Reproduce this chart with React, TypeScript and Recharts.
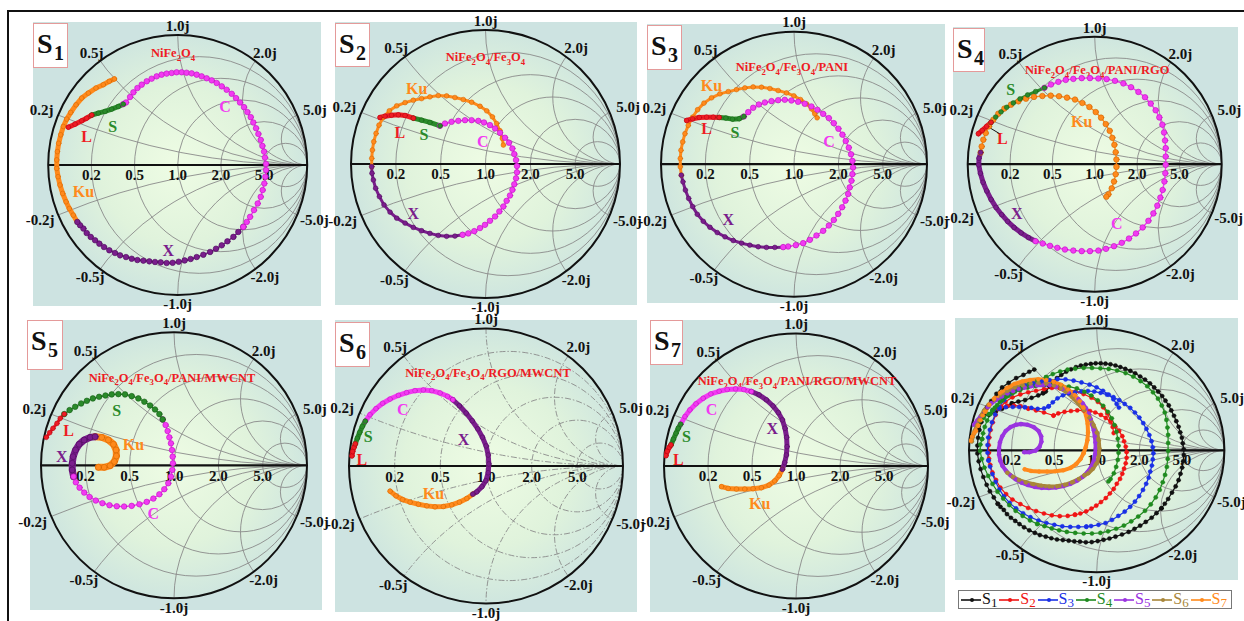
import React from 'react';
import { ComposedChart, Line, XAxis, YAxis, Customized } from 'recharts';
import * as RC from 'recharts';

type Pt = [number, number];

// ---------- data: reflection coefficient (Re Γ, Im Γ) ----------
const s1L: Pt[] = [[-0.844,0.291],[-0.793,0.314],[-0.741,0.340],[-0.703,0.360],[-0.664,0.384]];
const s1S: Pt[] = [[-0.664,0.384],[-0.613,0.399],[-0.561,0.412],[-0.510,0.430],[-0.458,0.450],[-0.420,0.468]];
const s1C: Pt[] = [[-0.420,0.468],[-0.399,0.481],[-0.368,0.523],[-0.342,0.559],[-0.311,0.592],[-0.278,0.618],[-0.239,0.644],[-0.201,0.664],[-0.162,0.682],[-0.124,0.695],[-0.085,0.703],[-0.046,0.708],[-0.008,0.713],[0.031,0.713],[0.069,0.710],[0.108,0.705],[0.147,0.695],[0.185,0.682],[0.224,0.667],[0.263,0.651],[0.301,0.631],[0.340,0.605],[0.378,0.579],[0.417,0.548],[0.450,0.515],[0.481,0.481],[0.512,0.445],[0.538,0.407],[0.564,0.368],[0.584,0.327],[0.605,0.283],[0.623,0.239],[0.641,0.193],[0.654,0.147],[0.667,0.103],[0.674,0.057],[0.682,0.008],[0.682,-0.039],[0.677,-0.090],[0.669,-0.142],[0.656,-0.193],[0.641,-0.245],[0.618,-0.296],[0.589,-0.347],[0.559,-0.399],[0.533,-0.438],[0.507,-0.476]];
const s1X: Pt[] = [[0.507,-0.476],[0.468,-0.515],[0.430,-0.553],[0.384,-0.587],[0.340,-0.618],[0.296,-0.644],[0.250,-0.669],[0.198,-0.690],[0.147,-0.708],[0.100,-0.723],[0.054,-0.734],[0.008,-0.744],[-0.039,-0.752],[-0.085,-0.754],[-0.131,-0.749],[-0.175,-0.746],[-0.219,-0.741],[-0.265,-0.736],[-0.311,-0.731],[-0.355,-0.721],[-0.399,-0.708],[-0.445,-0.695],[-0.484,-0.677],[-0.528,-0.656],[-0.569,-0.631],[-0.605,-0.605],[-0.638,-0.579],[-0.672,-0.553],[-0.703,-0.523],[-0.728,-0.489],[-0.754,-0.463],[-0.775,-0.438]];
const s1Ku: Pt[] = [[-0.775,-0.438],[-0.806,-0.386],[-0.837,-0.335],[-0.862,-0.283],[-0.888,-0.219],[-0.909,-0.154],[-0.924,-0.090],[-0.934,-0.026],[-0.934,0.039],[-0.929,0.103],[-0.919,0.167],[-0.903,0.232],[-0.883,0.296],[-0.857,0.353],[-0.826,0.404],[-0.785,0.463],[-0.741,0.515],[-0.690,0.553],[-0.631,0.592],[-0.574,0.618],[-0.528,0.644],[-0.489,0.662]];

const s2L: Pt[] = [[-0.784,0.347],[-0.747,0.357],[-0.698,0.364],[-0.648,0.367],[-0.598,0.362],[-0.536,0.342]];
const s2S: Pt[] = [[-0.536,0.342],[-0.475,0.327],[-0.413,0.310],[-0.338,0.285]];
const s2C: Pt[] = [[-0.338,0.285],[-0.301,0.302],[-0.252,0.315],[-0.202,0.322],[-0.152,0.327],[-0.103,0.327],[-0.053,0.322],[-0.011,0.310],[0.033,0.290],[0.071,0.265],[0.108,0.233],[0.145,0.196],[0.175,0.159],[0.200,0.116],[0.214,0.074],[0.227,0.030],[0.234,-0.015],[0.234,-0.062],[0.227,-0.107],[0.214,-0.151],[0.200,-0.193],[0.182,-0.235],[0.157,-0.275],[0.133,-0.317],[0.103,-0.354],[0.071,-0.392],[0.033,-0.424],[-0.004,-0.454],[-0.041,-0.478],[-0.083,-0.501],[-0.128,-0.518],[-0.170,-0.528]];
const s2X: Pt[] = [[-0.170,-0.528],[-0.227,-0.538],[-0.289,-0.540],[-0.351,-0.533],[-0.413,-0.518],[-0.475,-0.498],[-0.537,-0.473],[-0.598,-0.441],[-0.660,-0.404],[-0.710,-0.359],[-0.755,-0.305],[-0.789,-0.243],[-0.817,-0.181],[-0.834,-0.119],[-0.844,-0.069],[-0.846,-0.020]];
const s2Ku: Pt[] = [[-0.846,-0.020],[-0.846,0.042],[-0.841,0.104],[-0.831,0.166],[-0.814,0.228],[-0.792,0.290],[-0.760,0.347],[-0.715,0.397],[-0.660,0.434],[-0.598,0.458],[-0.537,0.476],[-0.475,0.488],[-0.413,0.501],[-0.351,0.511],[-0.289,0.508],[-0.227,0.496],[-0.165,0.481],[-0.103,0.461],[-0.041,0.431],[0.009,0.397],[0.051,0.352],[0.083,0.302],[0.108,0.248],[0.125,0.191],[0.133,0.141]];

const s3L: Pt[] = [[-0.807,0.330],[-0.762,0.343],[-0.712,0.353],[-0.657,0.355],[-0.607,0.355],[-0.562,0.353]];
const s3S: Pt[] = [[-0.562,0.353],[-0.512,0.348],[-0.462,0.340],[-0.412,0.343],[-0.377,0.360]];
const s3C: Pt[] = [[-0.377,0.360],[-0.344,0.393],[-0.307,0.426],[-0.264,0.451],[-0.219,0.466],[-0.169,0.476],[-0.119,0.483],[-0.069,0.486],[-0.019,0.481],[0.031,0.471],[0.081,0.456],[0.131,0.436],[0.176,0.411],[0.219,0.380],[0.262,0.348],[0.299,0.310],[0.334,0.268],[0.364,0.223],[0.389,0.175],[0.412,0.125],[0.429,0.075],[0.439,0.025],[0.444,-0.025],[0.439,-0.075],[0.432,-0.125],[0.419,-0.175],[0.407,-0.225],[0.387,-0.275],[0.362,-0.325],[0.332,-0.375],[0.299,-0.421],[0.262,-0.463],[0.219,-0.503],[0.169,-0.538],[0.119,-0.571],[0.069,-0.596],[0.014,-0.611],[-0.044,-0.621],[-0.081,-0.626]];
const s3X: Pt[] = [[-0.081,-0.626],[-0.144,-0.628],[-0.207,-0.628],[-0.269,-0.623],[-0.332,-0.611],[-0.394,-0.596],[-0.457,-0.576],[-0.519,-0.548],[-0.577,-0.516],[-0.632,-0.476],[-0.682,-0.431],[-0.727,-0.378],[-0.762,-0.320],[-0.792,-0.258],[-0.817,-0.195],[-0.835,-0.133],[-0.847,-0.083]];
const s3Ku: Pt[] = [[-0.847,-0.083],[-0.855,-0.020],[-0.855,0.043],[-0.850,0.105],[-0.837,0.168],[-0.820,0.230],[-0.795,0.293],[-0.762,0.355],[-0.725,0.411],[-0.677,0.461],[-0.620,0.501],[-0.557,0.531],[-0.494,0.548],[-0.432,0.563],[-0.369,0.576],[-0.307,0.583],[-0.244,0.581],[-0.181,0.571],[-0.119,0.556],[-0.056,0.538],[-0.001,0.516],[0.049,0.488],[0.094,0.456],[0.131,0.418],[0.156,0.380],[0.174,0.350]];

const s4L: Pt[] = [[-0.916,0.239],[-0.885,0.265],[-0.850,0.297],[-0.816,0.328]];
const s4S: Pt[] = [[-0.816,0.328],[-0.780,0.370],[-0.738,0.410],[-0.693,0.446],[-0.641,0.480],[-0.588,0.512],[-0.528,0.543],[-0.465,0.570],[-0.396,0.599]];
const s4C: Pt[] = [[-0.396,0.599],[-0.344,0.625],[-0.286,0.646],[-0.228,0.661],[-0.168,0.669],[-0.102,0.675],[-0.037,0.675],[0.029,0.672],[0.094,0.667],[0.160,0.654],[0.226,0.633],[0.286,0.604],[0.344,0.567],[0.396,0.525],[0.441,0.475],[0.480,0.423],[0.509,0.367],[0.533,0.310],[0.546,0.249],[0.554,0.186],[0.559,0.126],[0.559,0.060],[0.559,-0.005],[0.556,-0.071],[0.549,-0.136],[0.535,-0.202],[0.517,-0.262],[0.493,-0.325],[0.462,-0.386],[0.423,-0.444],[0.378,-0.496],[0.325,-0.543],[0.270,-0.583],[0.213,-0.617],[0.152,-0.643],[0.089,-0.664],[0.029,-0.677],[-0.037,-0.682],[-0.102,-0.682],[-0.168,-0.677],[-0.234,-0.669],[-0.294,-0.656],[-0.352,-0.640],[-0.409,-0.622],[-0.465,-0.604]];
const s4X: Pt[] = [[-0.465,-0.604],[-0.522,-0.575],[-0.580,-0.538],[-0.635,-0.496],[-0.685,-0.449],[-0.732,-0.396],[-0.777,-0.339],[-0.816,-0.276],[-0.850,-0.210],[-0.879,-0.142],[-0.900,-0.071],[-0.913,-0.005],[-0.911,0.047],[-0.898,0.092]];
const s4Ku: Pt[] = [[-0.898,0.092],[-0.890,0.139],[-0.877,0.192],[-0.858,0.244],[-0.832,0.297],[-0.798,0.349],[-0.759,0.396],[-0.711,0.436],[-0.659,0.467],[-0.601,0.493],[-0.541,0.514],[-0.478,0.528],[-0.412,0.535],[-0.346,0.538],[-0.281,0.533],[-0.218,0.522],[-0.155,0.507],[-0.097,0.480],[-0.042,0.449],[0.008,0.409],[0.050,0.365],[0.087,0.315],[0.118,0.262],[0.139,0.207],[0.155,0.152],[0.165,0.094],[0.171,0.037],[0.171,-0.021],[0.165,-0.079],[0.152,-0.136],[0.134,-0.189],[0.108,-0.236],[0.092,-0.255]];

const s5L: Pt[] = [[-0.960,0.210],[-0.935,0.245],[-0.910,0.278],[-0.880,0.315],[-0.855,0.353],[-0.825,0.385]];
const s5S: Pt[] = [[-0.825,0.385],[-0.785,0.415],[-0.743,0.440],[-0.698,0.465],[-0.655,0.485],[-0.610,0.503],[-0.563,0.515],[-0.515,0.525],[-0.468,0.533],[-0.418,0.535],[-0.368,0.533],[-0.318,0.520],[-0.268,0.503],[-0.223,0.478],[-0.180,0.450],[-0.143,0.420],[-0.110,0.385],[-0.085,0.345]];
const s5C: Pt[] = [[-0.085,0.345],[-0.063,0.303],[-0.048,0.258],[-0.035,0.210],[-0.023,0.165],[-0.015,0.115],[-0.010,0.065],[-0.008,0.015],[-0.013,-0.035],[-0.023,-0.085],[-0.043,-0.135],[-0.073,-0.180],[-0.110,-0.218],[-0.155,-0.250],[-0.205,-0.275],[-0.260,-0.293],[-0.318,-0.305],[-0.375,-0.310],[-0.430,-0.308],[-0.485,-0.300],[-0.538,-0.285],[-0.588,-0.265],[-0.635,-0.238],[-0.675,-0.205],[-0.710,-0.168],[-0.738,-0.128],[-0.755,-0.085]];
const s5X: Pt[] = [[-0.755,-0.085],[-0.765,-0.035],[-0.765,0.015],[-0.758,0.065],[-0.740,0.115],[-0.713,0.158],[-0.675,0.190],[-0.630,0.210],[-0.593,0.215]];
const s5Ku: Pt[] = [[-0.593,0.215],[-0.543,0.210],[-0.493,0.190],[-0.455,0.158],[-0.435,0.115],[-0.433,0.070],[-0.448,0.028],[-0.480,-0.003],[-0.525,-0.015],[-0.568,-0.015]];

const s6L: Pt[] = [[-0.978,0.073],[-0.973,0.105],[-0.963,0.136],[-0.954,0.161]];
const s6S: Pt[] = [[-0.954,0.161],[-0.939,0.202],[-0.922,0.244],[-0.903,0.287],[-0.881,0.326]];
const s6C: Pt[] = [[-0.881,0.326],[-0.847,0.373],[-0.803,0.417],[-0.754,0.456],[-0.700,0.487],[-0.639,0.514],[-0.579,0.534],[-0.518,0.548],[-0.457,0.553],[-0.396,0.548],[-0.335,0.531],[-0.281,0.507],[-0.242,0.482]];
const s6X: Pt[] = [[-0.242,0.482],[-0.194,0.438],[-0.145,0.385],[-0.101,0.329],[-0.060,0.270],[-0.026,0.209],[0.001,0.146],[0.016,0.080],[0.021,0.015],[0.016,-0.049],[-0.001,-0.107],[-0.030,-0.151],[-0.067,-0.188],[-0.096,-0.205]];
const s6Ku: Pt[] = [[-0.096,-0.205],[-0.140,-0.236],[-0.194,-0.263],[-0.250,-0.283],[-0.311,-0.295],[-0.372,-0.297],[-0.432,-0.290],[-0.493,-0.278],[-0.554,-0.263],[-0.608,-0.244],[-0.657,-0.217],[-0.700,-0.183]];

const s7L: Pt[] = [[-0.985,0.078],[-0.975,0.111],[-0.960,0.141],[-0.947,0.159]];
const s7S: Pt[] = [[-0.947,0.159],[-0.929,0.202],[-0.909,0.247],[-0.892,0.285],[-0.874,0.315]];
const s7C: Pt[] = [[-0.874,0.315],[-0.841,0.373],[-0.804,0.423],[-0.758,0.469],[-0.703,0.511],[-0.645,0.544],[-0.582,0.564],[-0.521,0.577],[-0.458,0.582],[-0.395,0.577],[-0.338,0.562]];
const s7X: Pt[] = [[-0.338,0.562],[-0.280,0.537],[-0.224,0.499],[-0.174,0.453],[-0.134,0.403],[-0.103,0.348],[-0.083,0.285],[-0.071,0.217],[-0.068,0.146],[-0.073,0.083],[-0.086,0.025],[-0.103,-0.025]];
const s7Ku: Pt[] = [[-0.103,-0.025],[-0.128,-0.073],[-0.161,-0.113],[-0.204,-0.144],[-0.262,-0.164],[-0.325,-0.171],[-0.388,-0.174],[-0.451,-0.174],[-0.514,-0.169],[-0.564,-0.156]];

// ---------- labels / categories ----------
const BANDS = ['L', 'S', 'C', 'X', 'Ku'] as const;
type Band = typeof BANDS[number];
const SAMPLE_NAMES = ['S1', 'S2', 'S3', 'S4', 'S5', 'S6', 'S7'];
const SAMPLE_TITLES = ['NiFe2O4', 'NiFe2O4/Fe3O4', 'NiFe2O4/Fe3O4/PANI', 'NiFe2O4/Fe3O4/PANI/RGO', 'NiFe2O4/Fe3O4/PANI/MWCNT', 'NiFe2O4/Fe3O4/RGO/MWCNT', 'NiFe2O4/Fe3O4/PANI/RGO/MWCNT'];
const SAMPLE_SEGMENTS: Pt[][][] = [
  [s1L, s1S, s1C, s1X, s1Ku],
  [s2L, s2S, s2C, s2X, s2Ku],
  [s3L, s3S, s3C, s3X, s3Ku],
  [s4L, s4S, s4C, s4X, s4Ku],
  [s5L, s5S, s5C, s5X, s5Ku],
  [s6L, s6S, s6C, s6X, s6Ku],
  [s7L, s7S, s7C, s7X, s7Ku],
];
const RESISTANCE_VALUES = [0.2, 0.5, 1, 2, 5];
const REACTANCE_VALUES = [0.2, 0.5, 1, 2, 5];
const AXIS_TICK_LABELS = ['0.2', '0.5', '1.0', '2.0', '5.0'];
const RIM_TICK_LABELS = ['1.0j', '0.5j', '2.0j', '0.2j', '5.0j', '-0.2j', '-5.0j', '-0.5j', '-2.0j', '-1.0j'];

// ---------- styles & layout ----------
const BAND_COLOR: Record<Band, string> = { L: '#ee1c24', S: '#2a8a2a', C: '#f23af2', X: '#7a1e8c', Ku: '#ff8a1c' };
const BAND_DARK: Record<Band, string> = { L: '#b00010', S: '#175e17', C: '#c012c0', X: '#4c0a5a', Ku: '#d06400' };
const SAMPLE_COLOR = ['#111111', '#f01414', '#1a30e6', '#1f8a1f', '#9a34e0', '#a8863a', '#ff8a1c'];
const SAMPLE_MODE = ['b', 'b', 'b', 'b', 'd', 'd', 'd'];
const RIM_POS: Pt[] = [[0, 1.07], [-0.664, 0.862], [0.674, 0.862], [-1.05, 0.425], [1.06, 0.425], [-1.063, -0.425], [1.055, -0.425], [-0.677, -0.862], [0.674, -0.862], [0, -1.07]];
const FONT = '"Liberation Serif", "Times New Roman", serif';

type PanelLayout = {
  cell: [number, number, number, number];
  circle: [number, number, number, number];
  bg: [number, number, number, number];
  box: [number, number, number, number];
  title: Pt;
  bandLabels: Record<Band, Pt>;
  modes: Record<Band, string>;
  dashed?: boolean;
  pointer?: [Pt, Pt];
};

const LAYOUTS: PanelLayout[] = [
  { cell: [12, 12, 318, 298], circle: [177.7, 165, 129.5, 130], bg: [33, 22, 288, 284], box: [33, 23, 35, 45], title: [-0.036, 0.86],
    bandLabels: { C: [0.366, 0.45], S: [-0.502, 0.296], L: [-0.703, 0.219], Ku: [-0.728, -0.206], X: [-0.072, -0.656] },
    modes: { L: 'd', S: 'd', C: 'b', X: 'b', Ku: 'd' } },
  { cell: [330, 12, 311, 298], circle: [485.5, 164, 134.5, 134], bg: [335, 22, 302, 283], box: [335, 23, 35, 44], title: [0, 0.8],
    bandLabels: { Ku: [-0.512, 0.563], L: [-0.636, 0.233], S: [-0.457, 0.223], C: [-0.021, 0.166], X: [-0.537, -0.367] },
    modes: { L: 'd', S: 'd', C: 'b', X: 'm', Ku: 'm' } },
  { cell: [641, 12, 309, 298], circle: [794, 164.2, 133, 132.5], bg: [647, 24, 298, 279], box: [647, 25, 35, 45], title: [-0.015, 0.73],
    bandLabels: { Ku: [-0.62, 0.593], L: [-0.657, 0.268], S: [-0.444, 0.243], C: [0.264, 0.168], X: [-0.494, -0.416] },
    modes: { L: 'd', S: 'd', C: 'b', X: 'm', Ku: 'm' } },
  { cell: [950, 12, 294, 298], circle: [1094.7, 164.2, 127, 127.5], bg: [953, 27, 285, 273], box: [953, 28, 32, 44], title: [0.02, 0.74],
    bandLabels: { S: [-0.661, 0.585], L: [-0.727, 0.205], Ku: [-0.102, 0.336], X: [-0.614, -0.386], C: [0.173, -0.465] },
    modes: { L: 'd', S: 'm', C: 'b', X: 'd', Ku: 'b' }, pointer: [[-0.75, 0.24], [-0.85, 0.3]] },
  { cell: [12, 310, 318, 311], circle: [174, 465.3, 133, 133], bg: [30, 320, 292, 290], box: [27, 320, 36, 50], title: [-0.015, 0.66],
    bandLabels: { S: [-0.43, 0.415], L: [-0.793, 0.265], Ku: [-0.305, 0.153], X: [-0.843, 0.065], C: [-0.155, -0.36] },
    modes: { L: 'm', S: 'b', C: 'b', X: 'dd', Ku: 'dd' } },
  { cell: [330, 310, 311, 311], circle: [486, 466, 137, 137.5], bg: [335, 320, 302, 292], box: [335, 322, 35, 45], title: [0.015, 0.68],
    bandLabels: { C: [-0.608, 0.409], S: [-0.859, 0.214], L: [-0.907, 0.049], X: [-0.164, 0.19], Ku: [-0.384, -0.2] },
    modes: { L: 'd', S: 'd', C: 'd', X: 'd', Ku: 'd' }, dashed: true },
  { cell: [641, 310, 309, 311], circle: [796, 466, 132, 132.5], bg: [650, 320, 295, 292], box: [650, 320, 33, 45], title: [0.008, 0.64],
    bandLabels: { C: [-0.64, 0.423], S: [-0.829, 0.222], L: [-0.892, 0.05], X: [-0.179, 0.285], Ku: [-0.275, -0.282] },
    modes: { L: 'd', S: 'd', C: 'd', X: 'd', Ku: 'd' } },
];
const COMBINED_LAYOUT = { cell: [950, 310, 294, 311] as [number, number, number, number], circle: [1096.7, 450.3, 127.7, 122] as [number, number, number, number], bg: [955, 318, 283, 262] as [number, number, number, number] };

const toPts = (a: Pt[]) => a.map(([u, v]) => ({ u, v }));
const usePlotAreaSafe: () => any = (RC as any).usePlotArea ?? (() => null);

function usePlotBox(fb: [number, number, number, number]) {
  const pa = usePlotAreaSafe();
  const ok = pa && pa.width;
  const x0 = ok ? pa.x : fb[0];
  const y0 = ok ? pa.y : fb[1];
  const w = ok ? pa.width : fb[2];
  const h = ok ? pa.height : fb[3];
  return { X: (u: number) => x0 + ((u + 1) / 2) * w, Y: (v: number) => y0 + ((1 - v) / 2) * h, w, h };
}

// text with numeric subscripts
function Formula({ text, x, y, size, fill }: { text: string; x: number; y: number; size: number; fill: string }) {
  const parts = text.match(/(\d+|[^\d]+)/g) || [];
  let shifted = false;
  return (
    <text x={x} y={y} textAnchor="middle" fontFamily={FONT} fontWeight="bold" fontSize={size} fill={fill}>
      {parts.map((p, i) => {
        const isSub = /^\d+$/.test(p);
        let dy = 0;
        if (isSub && !shifted) { dy = size * 0.3; shifted = true; }
        else if (!isSub && shifted) { dy = -size * 0.3; shifted = false; }
        return <tspan key={i} dy={dy} fontSize={isSub ? size * 0.7 : size}>{p}</tspan>;
      })}
    </text>
  );
}

type LayerProps = { id: string; fb: [number, number, number, number]; dashed?: boolean; title?: string; titlePos?: Pt; bandLabels?: Record<Band, Pt>; pointer?: [Pt, Pt] };

function SmithLayer(props: LayerProps) {
  const { X, Y, w, h } = usePlotBox(props.fb);
  const rx = w / 2, ry = h / 2, cx = X(0), cy = Y(0);
  const dash = props.dashed ? '6 2 1.5 2' : undefined;
  return (
    <g>
      <defs>
        <radialGradient id={`grad-${props.id}`} cx="50%" cy="50%" r="50%">
          <stop offset="0%" stopColor="#eefce4" />
          <stop offset="60%" stopColor="#e0f3dc" />
          <stop offset="100%" stopColor="#cfe6df" />
        </radialGradient>
        <clipPath id={`clip-${props.id}`}>
          <ellipse cx={cx} cy={cy} rx={rx} ry={ry} />
        </clipPath>
      </defs>
      <ellipse cx={cx} cy={cy} rx={rx} ry={ry} fill={`url(#grad-${props.id})`} />
      <g clipPath={`url(#clip-${props.id})`} fill="none" stroke="#8a8a8a" strokeWidth={0.9} strokeDasharray={dash}>
        {RESISTANCE_VALUES.map((r) => (
          <ellipse key={`r${r}`} cx={X(r / (1 + r))} cy={cy} rx={rx / (1 + r)} ry={ry / (1 + r)} />
        ))}
        {REACTANCE_VALUES.flatMap((x) => [1, -1].map((s) => (
          <ellipse key={`x${x}${s}`} cx={X(1)} cy={Y(s / x)} rx={rx / x} ry={ry / x} />
        )))}
      </g>
      <ellipse cx={cx} cy={cy} rx={rx} ry={ry} fill="none" stroke="#111" strokeWidth={2} />
      <line x1={X(-1)} x2={X(1)} y1={cy} y2={cy} stroke="#111" strokeWidth={2.2} />
      {RIM_TICK_LABELS.map((t, i) => (
        <text key={t} x={X(RIM_POS[i][0])} y={Y(RIM_POS[i][1])} dominantBaseline="central" textAnchor="middle" fontFamily={FONT} fontWeight="bold" fontSize={15} fill="#111">{t}</text>
      ))}
      {AXIS_TICK_LABELS.map((t, i) => {
        const r = RESISTANCE_VALUES[i];
        return <text key={t} x={X((r - 1) / (r + 1))} y={Y(-0.077)} dominantBaseline="central" textAnchor="middle" fontFamily={FONT} fontWeight="bold" fontSize={15} fill="#111">{t}</text>;
      })}
    </g>
  );
}

function TopLayer(props: LayerProps) {
  const { X, Y } = usePlotBox(props.fb);
  return (
    <g>
      {props.bandLabels ? BANDS.map((b) => (
        <text key={b} x={X(props.bandLabels![b][0])} y={Y(props.bandLabels![b][1])} dominantBaseline="central" textAnchor="middle" fontFamily={FONT} fontWeight="bold" fontSize={16} fill={BAND_COLOR[b]}>{b}</text>
      )) : null}
      {props.pointer ? <line x1={X(props.pointer[0][0])} y1={Y(props.pointer[0][1])} x2={X(props.pointer[1][0])} y2={Y(props.pointer[1][1])} stroke="#111" strokeWidth={1} /> : null}
      {props.title && props.titlePos ? <Formula text={props.title} x={X(props.titlePos[0])} y={Y(props.titlePos[1]) + 4} size={12.5} fill="#ee1c24" /> : null}
    </g>
  );
}

function styleFor(mode: string, color: string, dark: string) {
  if (mode === 'dd') return { sw: 7, dot: { r: 3, fill: color, stroke: dark, strokeWidth: 0.6 } };
  if (mode === 'd') return { sw: 5, dot: { r: 2.4, fill: color, stroke: dark, strokeWidth: 0.5 } };
  if (mode === 'm') return { sw: 3, dot: { r: 2.4, fill: color, stroke: dark, strokeWidth: 0.5 } };
  return { sw: 1.4, dot: { r: 2.8, fill: color, stroke: dark, strokeWidth: 0.6 } };
}

function marginFor(cell: [number, number, number, number], circle: [number, number, number, number]) {
  const [x, y, w, h] = cell;
  const [cx, cy, rx, ry] = circle;
  return { left: cx - rx - x, top: cy - ry - y, right: x + w - (cx + rx), bottom: y + h - (cy + ry) };
}

function SamplePanel({ idx }: { idx: number }) {
  const L = LAYOUTS[idx];
  const m = marginFor(L.cell, L.circle);
  const fb: [number, number, number, number] = [m.left, m.top, 2 * L.circle[2], 2 * L.circle[3]];
  const segs = SAMPLE_SEGMENTS[idx];
  const drawOrder = [4, 3, 2, 1, 0];
  return (
    <>
      <div style={{ position: 'absolute', left: L.bg[0], top: L.bg[1], width: L.bg[2], height: L.bg[3], background: '#cde3e1' }} />
      <div style={{ position: 'absolute', left: L.cell[0], top: L.cell[1] }}>
        <ComposedChart width={L.cell[2]} height={L.cell[3]} margin={m}>
          <XAxis type="number" dataKey="u" domain={[-1, 1]} hide allowDataOverflow />
          <YAxis type="number" dataKey="v" domain={[-1, 1]} hide allowDataOverflow />
          <Customized component={<SmithLayer id={`p${idx}`} fb={fb} dashed={L.dashed} />} />
          {drawOrder.map((bi) => {
            const band = BANDS[bi];
            const st = styleFor(L.modes[band], BAND_COLOR[band], BAND_DARK[band]);
            return (
              <Line key={band} data={toPts(segs[bi])} dataKey="v" type="linear" stroke={BAND_COLOR[band]} strokeWidth={st.sw}
                strokeLinecap="round" strokeLinejoin="round" dot={st.dot} activeDot={false} isAnimationActive={false} />
            );
          })}
          <Customized component={<TopLayer id={`t${idx}`} fb={fb} bandLabels={L.bandLabels} pointer={L.pointer} title={SAMPLE_TITLES[idx]} titlePos={L.title} />} />
        </ComposedChart>
      </div>
      <div style={{ position: 'absolute', left: L.box[0], top: L.box[1], width: L.box[2], height: L.box[3], boxSizing: 'border-box', border: '1.5px solid #e49a9a', background: '#fff', fontFamily: FONT, fontWeight: 'bold', color: '#111' }}>
        <span style={{ position: 'absolute', left: 3, top: 6, fontSize: 28, lineHeight: '28px' }}>S</span>
        <span style={{ position: 'absolute', left: 20, top: 19, fontSize: 20, lineHeight: '20px' }}>{SAMPLE_NAMES[idx].slice(1)}</span>
      </div>
    </>
  );
}

function CombinedPanel() {
  const C = COMBINED_LAYOUT;
  const m = marginFor(C.cell, C.circle);
  const fb: [number, number, number, number] = [m.left, m.top, 2 * C.circle[2], 2 * C.circle[3]];
  return (
    <>
      <div style={{ position: 'absolute', left: C.bg[0], top: C.bg[1], width: C.bg[2], height: C.bg[3], background: '#cde3e1' }} />
      <div style={{ position: 'absolute', left: C.cell[0], top: C.cell[1] }}>
        <ComposedChart width={C.cell[2]} height={C.cell[3]} margin={m}>
          <XAxis type="number" dataKey="u" domain={[-1, 1]} hide allowDataOverflow />
          <YAxis type="number" dataKey="v" domain={[-1, 1]} hide allowDataOverflow />
          <Customized component={<SmithLayer id="p8" fb={fb} />} />
          {SAMPLE_SEGMENTS.map((segs, i) => {
            const color = SAMPLE_COLOR[i];
            const dense = SAMPLE_MODE[i] === 'd';
            const pts = toPts(([] as Pt[]).concat(...segs));
            return (
              <Line key={SAMPLE_NAMES[i]} name={SAMPLE_NAMES[i]} data={pts} dataKey="v" type="linear" stroke={color}
                strokeWidth={dense ? 4 : 1.2} strokeLinejoin="round" strokeLinecap="round"
                dot={{ r: dense ? 2 : 2.1, fill: color, stroke: color, strokeWidth: 0.4 }}
                activeDot={false} isAnimationActive={false} />
            );
          })}
        </ComposedChart>
      </div>
      <div style={{ position: 'absolute', left: 958, top: 590, width: 274, height: 19, boxSizing: 'border-box', border: '1px solid #777', background: '#fff', display: 'flex', alignItems: 'center', justifyContent: 'space-between', padding: '0 4px 0 2px', fontFamily: FONT, fontSize: 16 }}>
        {SAMPLE_NAMES.map((n, i) => (
          <span key={n} style={{ display: 'flex', alignItems: 'center', color: SAMPLE_COLOR[i] }}>
            <svg width={20} height={8}>
              <line x1={0} y1={4} x2={20} y2={4} stroke={SAMPLE_COLOR[i]} strokeWidth={1.6} />
              <circle cx={11} cy={4} r={2} fill={SAMPLE_COLOR[i]} />
            </svg>
            <span style={{ lineHeight: '16px', marginLeft: 1 }}>S<span style={{ fontSize: 13, position: 'relative', top: 3 }}>{n.slice(1)}</span></span>
          </span>
        ))}
      </div>
    </>
  );
}

export default function App() {
  return (
    <div style={{ position: 'absolute', left: 0, top: 0, width: 1244, height: 621, background: '#fff', overflow: 'hidden' }}>
      <style>{'.recharts-surface{overflow:visible}'}</style>
      <div style={{ position: 'absolute', left: 7, top: 10, width: 1240, height: 620, borderTop: '2px solid #111', borderLeft: '2px solid #111' }} />
      {LAYOUTS.map((_, i) => <SamplePanel key={i} idx={i} />)}
      <CombinedPanel />
    </div>
  );
}
